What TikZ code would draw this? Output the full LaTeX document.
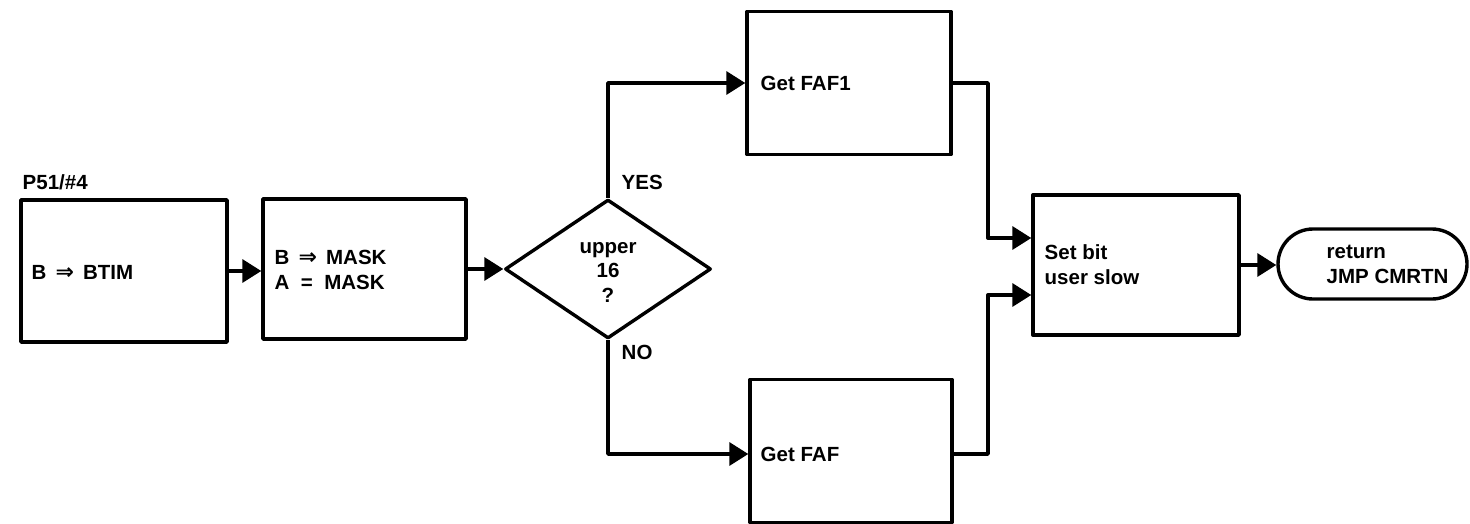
\documentclass[tikz,border=0pt]{standalone}
\usepackage{fontspec}
\setmainfont{Liberation Sans}
\newfontfamily\symf{DejaVu Sans}
\usetikzlibrary{arrows.meta,shapes.geometric}
\begin{document}
\begin{tikzpicture}[x=1pt,y=-1pt,
  line width=3.4pt, line join=round,
  box/.style={draw, rectangle, inner sep=0pt},
  txt/.style={anchor=west, inner sep=0pt, align=left, font=\fontsize{20.5}{25}\selectfont\bfseries},
  ctxt/.style={inner sep=0pt, align=center, font=\fontsize{20.5}{24.5}\selectfont\bfseries},
  arr/.style={-{Triangle[length=19pt,width=23pt]}}]
\useasboundingbox (0,0) rectangle (1470,523);
% boxes
\node[box, minimum width=206pt, minimum height=142pt] (b1) at (124,271) {};
\node[box, minimum width=203pt, minimum height=140pt] (b2) at (364.5,269) {};
\node[draw, diamond, inner sep=0pt, minimum width=206pt, minimum height=139pt, aspect=1.48] (dia) at (608,269) {};
\node[box, minimum width=204pt, minimum height=143pt] (faf1) at (849,83) {};
\node[box, minimum width=202pt, minimum height=143pt] (faf) at (851,451) {};
\node[box, minimum width=206pt, minimum height=140pt] (set) at (1136,265) {};
\node[draw, rectangle, rounded corners=35pt, minimum width=189pt, minimum height=70pt, inner sep=0pt] (term) at (1372.5,264) {};
% texts
\node[txt] (lp) at (21,182) {P51/\#4};
\node[txt] (t1) at (30,272) {B \,{\symf\bfseries\fontsize{22}{25}\selectfont ⇒}\, BTIM};
\node[txt] (t2) at (273,269.5) {B \,{\symf\bfseries\fontsize{22}{25}\selectfont ⇒}\, MASK\\A \ = \ MASK};
\node[ctxt] (t3) at (608,272) {upper\\16\\?};
\node[txt] (yes) at (620,182) {YES};
\node[txt] (no) at (620,352) {NO};
\node[txt] (t4) at (759,83) {Get FAF1};
\node[txt] (t5) at (759,454) {Get FAF};
\node[txt] (t6) at (1043,264.5) {Set bit\\user slow};
\node[txt] (t7) at (1325,264.5) {return\\JMP CMRTN};
% junctions
\coordinate (c1) at (988,238);
\coordinate (c2) at (988,295);
% connectors
\draw[arr] (b1.east) -- (b1.east -| b2.west);
\draw[arr] (b2.east) -- (b2.east -| dia.west);
\draw[arr] (dia.north) |- (faf1.west);
\draw[arr] (dia.south) |- ([yshift=-3pt]faf.west);
\draw[arr] (faf1.east) -| (c1) -- (c1 -| set.west);
\draw[arr] ([yshift=-3pt]faf.east) -| (c2) -- (c2 -| set.west);
\draw[arr] (set.east) -- (set.east -| term.west);
\end{tikzpicture}
\end{document}
